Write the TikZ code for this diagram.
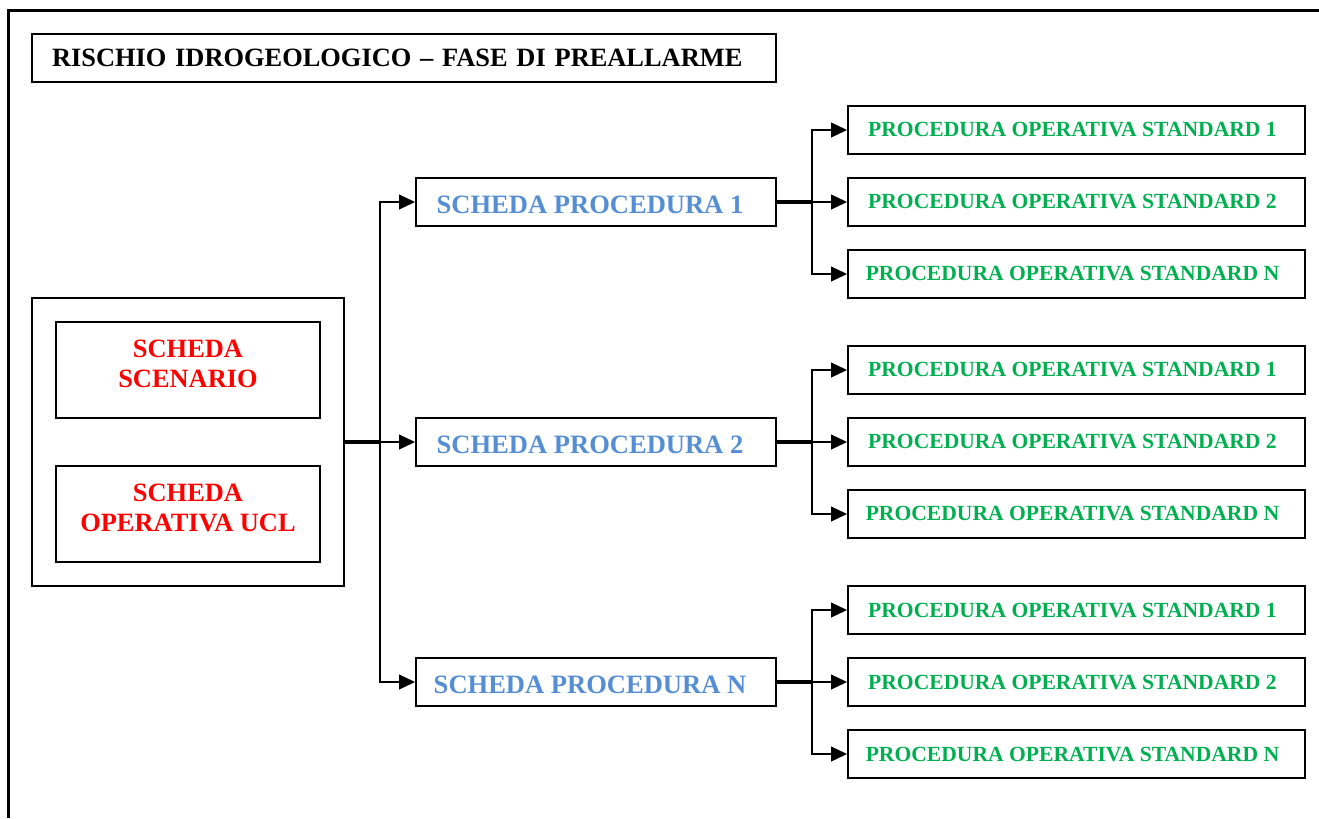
\documentclass[tikz,border=0pt]{standalone}
\usepackage{fontspec}
\setmainfont{Liberation Serif}
\usetikzlibrary{arrows.meta}
\definecolor{cred}{HTML}{FF0000}
\definecolor{cblue}{HTML}{558ED5}
\definecolor{cgreen}{HTML}{00B050}
\tikzset{
  box/.style={draw, line width=1.4pt, inner sep=0pt, font=\bfseries},
  bluebox/.style={box, minimum width=270pt, minimum height=36pt},
  bluetext/.style={inner sep=0pt, text=cblue, font=\fontsize{19.9}{22}\bfseries\selectfont, xshift=-4.5pt, yshift=-1.9pt},
  greenbox/.style={box, minimum width=342.75pt, minimum height=36pt},
  greentext/.style={inner sep=0pt, text=cgreen, font=\fontsize{16.2}{18}\bfseries\selectfont, xshift=-3pt},
  redbox/.style={box, minimum width=198pt, minimum height=72pt},
  redtext/.style={inner sep=0pt, text=cred, align=center, font=\fontsize{19.8}{22.5}\bfseries\selectfont, yshift=4.5pt},
  trunk/.style={line width=2.4pt},
  arr/.style={line width=1.5pt, -{Triangle[length=12pt,width=11pt]}},
}
\begin{document}
\begin{tikzpicture}[x=0.75pt,y=-0.75pt]
\useasboundingbox (0,0) rectangle (1319,818);
\draw[line width=2.2pt] (8.5,818) -- (8.5,10.5) -- (1319,10.5);
\node[box, minimum width=558pt, minimum height=36pt, inner xsep=15pt, text width=528pt, align=left, font=\fontsize{19.8}{22}\bfseries\selectfont] (title) at (404,58) {RISCHIO IDROGEOLOGICO -- FASE DI PREALLARME};
\node[box, minimum width=234pt, minimum height=216pt] (big) at (188,442) {};
\node[redbox, label={[redtext]center:SCHEDA\\SCENARIO}] (scen) at (188,370) {};
\node[redbox, label={[redtext]center:SCHEDA\\OPERATIVA UCL}] (ucl) at (188,514) {};
\node[bluebox, label={[bluetext]center:SCHEDA PROCEDURA 1}] (p1) at (596,202) {};
\node[bluebox, label={[bluetext]center:SCHEDA PROCEDURA 2}] (p2) at (596,442) {};
\node[bluebox, label={[bluetext]center:SCHEDA PROCEDURA N}] (pn) at (596,682) {};
\coordinate (j0) at (380,442);
\draw[trunk] (big.east) -- (j0);
\draw[arr] (j0) |- (p1.west);
\draw[arr] (j0) -- (p2.west);
\draw[arr] (j0) |- (pn.west);
\foreach \p/\y in {1/202,2/442,n/682}{
  \node[greenbox, label={[greentext]center:PROCEDURA OPERATIVA STANDARD 1}] (s\p a) at (1076.5,\y-72) {};
  \node[greenbox, label={[greentext]center:PROCEDURA OPERATIVA STANDARD 2}] (s\p b) at (1076.5,\y) {};
  \node[greenbox, label={[greentext]center:PROCEDURA OPERATIVA STANDARD N}] (s\p c) at (1076.5,\y+72) {};
  \coordinate (j\p) at (812,\y);
  \draw[trunk] (p\p.east) -- (j\p);
  \draw[arr] (j\p) |- (s\p a.west);
  \draw[arr] (j\p) -- (s\p b.west);
  \draw[arr] (j\p) |- (s\p c.west);
}
\end{tikzpicture}
\end{document}
